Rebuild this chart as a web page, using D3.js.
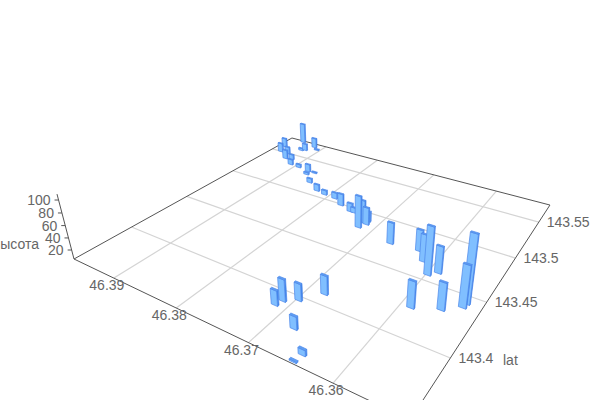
<!DOCTYPE html>
<html lang="ru">
<head>
    <meta charset="UTF-8">
    <title>lon / lat / высота</title>
    <style>
        html, body { margin: 0; padding: 0; background: #fff; overflow: hidden; }
        svg { display: block; }
        text { font-family: "Liberation Sans", Arial, sans-serif; font-size: 14px; fill: #666; }
        .grid { stroke: #d4d4d4; stroke-width: 1.2; }
        .edge { stroke: #555; stroke-width: 1; }
    </style>
    <script src="https://d3js.org/d3.v7.min.js"></script>
</head>
<body>
    <svg width="600" height="400"></svg>
    <script>
        // values
        var lon = [46.3666,46.3628,46.3614,46.3598,46.3589,46.3588,46.3559,46.3541,46.3540,46.3720,46.3722,46.3715,46.3717,46.3751,46.3745,46.3771,46.3789,46.3808,46.3824,46.3848,46.3868,46.3860,46.3872,46.3893,46.3910,46.3920,46.3931,46.3940,46.3954,46.3961,46.3945,46.3916,46.3923,46.3928,46.3906,46.3714,46.3711,46.3697,46.3679,46.3674,46.3645,46.3647];
        var lat = [143.474,143.476,143.467,143.456,143.461,143.424,143.431,143.439,143.443,143.480,143.487,143.486,143.490,143.495,143.495,143.499,143.505,143.506,143.508,143.516,143.526,143.531,143.531,143.533,143.534,143.542,143.541,143.550,143.550,143.560,143.576,143.572,143.563,143.561,143.568,143.387,143.392,143.397,143.409,143.377,143.364,143.358];
        var height = [41,41,50,83,49,47,48,71,111,60,44,35,23,20,14,26,16,13,17,13,9,7,19,11,15,15,22,18,22,22,44,24,18,9,7,29,40,32,35,25,14,7];
        var lonTicks = [46.39,46.38,46.37,46.36];
        var latTicks = [143.4,143.45,143.5,143.55];
        var heightTicks = [20,40,60,80,100];

        var svg = d3.select("svg");

        var uScale = d3.scaleLinear().domain([46.3972,46.3522]).range([0,1]);
        var vScale = d3.scaleLinear().domain([143.3564,143.5777]).range([0,1]);
        var tScale = d3.scaleLinear().domain([4.8,109]).range([0,0.059]);

        // perspective of the floor plus the vanishing point of the verticals
        function project(u, v, t) {
            var w = 1 - 0.2934*u + 0.4615*v - t;
            return [(215.7*u + 352.7*v + 74 - 345*t)/w, (37.8*u - 57.3*v + 259 - 1294*t)/w];
        }

        function seg(g, cls, a, b) {
            g.append("line").attr("class", cls)
                .attr("x1", a[0]).attr("y1", a[1]).attr("x2", b[0]).attr("y2", b[1]);
        }

        var floor = svg.append("g");
        lonTicks.forEach(function(d) { seg(floor, "grid", project(uScale(d),0,0), project(uScale(d),1,0)); });
        latTicks.forEach(function(d) { seg(floor, "grid", project(0,vScale(d),0), project(1,vScale(d),0)); });

        var corners = [[0,0],[1,0],[1,1],[0,1]];
        corners.forEach(function(c, i) {
            var n = corners[(i+1)%4];
            seg(floor, "edge", project(c[0],c[1],0), project(n[0],n[1],0));
        });

        // height axis
        seg(floor, "edge", project(0,0,0), project(0,0,tScale(109)));
        heightTicks.forEach(function(d) {
            var p = project(0,0,tScale(d));
            seg(floor, "edge", p, [p[0]-4, p[1]]);
            svg.append("text").attr("x", p[0]-8).attr("y", p[1]+5).attr("text-anchor","end").text(d);
        });

        // tick labels
        lonTicks.forEach(function(d) {
            var p = project(uScale(d),0,0);
            svg.append("text").attr("x", p[0]-7).attr("y", p[1]+12).attr("text-anchor","middle").text(d);
        });
        latTicks.forEach(function(d) {
            var p = project(1,vScale(d),0);
            svg.append("text").attr("x", p[0]+8).attr("y", p[1]+5).text(d);
        });
        svg.append("text").attr("x", 503).attr("y", 365).text("lat");
        svg.append("text").attr("x", 39).attr("y", 249).attr("text-anchor","end").text("высота");

        // bars, far ones first
        var du = 0.0095, dv = 0.003;
        var bars = d3.range(lon.length).map(function(i) {
            return { u: uScale(lon[i]), v: vScale(lat[i]), t: tScale(height[i]) };
        }).sort(function(a, b) { return (a.u - a.v) - (b.u - b.v); });

        var faces = [
            { fill: "#3f86ea", pts: function(d) { return [[d.u+du,d.v-dv,0],[d.u+du,d.v+dv,0],[d.u+du,d.v+dv,d.t],[d.u+du,d.v-dv,d.t]]; } },
            { fill: "#80bfff", pts: function(d) { return [[d.u-du,d.v-dv,0],[d.u+du,d.v-dv,0],[d.u+du,d.v-dv,d.t],[d.u-du,d.v-dv,d.t]]; } },
            { fill: "#5f9ff2", pts: function(d) { return [[d.u-du,d.v-dv,d.t],[d.u+du,d.v-dv,d.t],[d.u+du,d.v+dv,d.t],[d.u-du,d.v+dv,d.t]]; } }
        ];

        var bar = svg.append("g").selectAll("g").data(bars).enter().append("g");
        faces.forEach(function(f) {
            bar.append("path")
                .attr("fill", f.fill)
                .attr("stroke", "#4c86ea")
                .attr("stroke-width", 0.7)
                .attr("stroke-linejoin", "round")
                .attr("d", function(d) {
                    return d3.line()(f.pts(d).map(function(p) { return project(p[0],p[1],p[2]); })) + "Z";
                });
        });
    </script>
</body>
</html>
